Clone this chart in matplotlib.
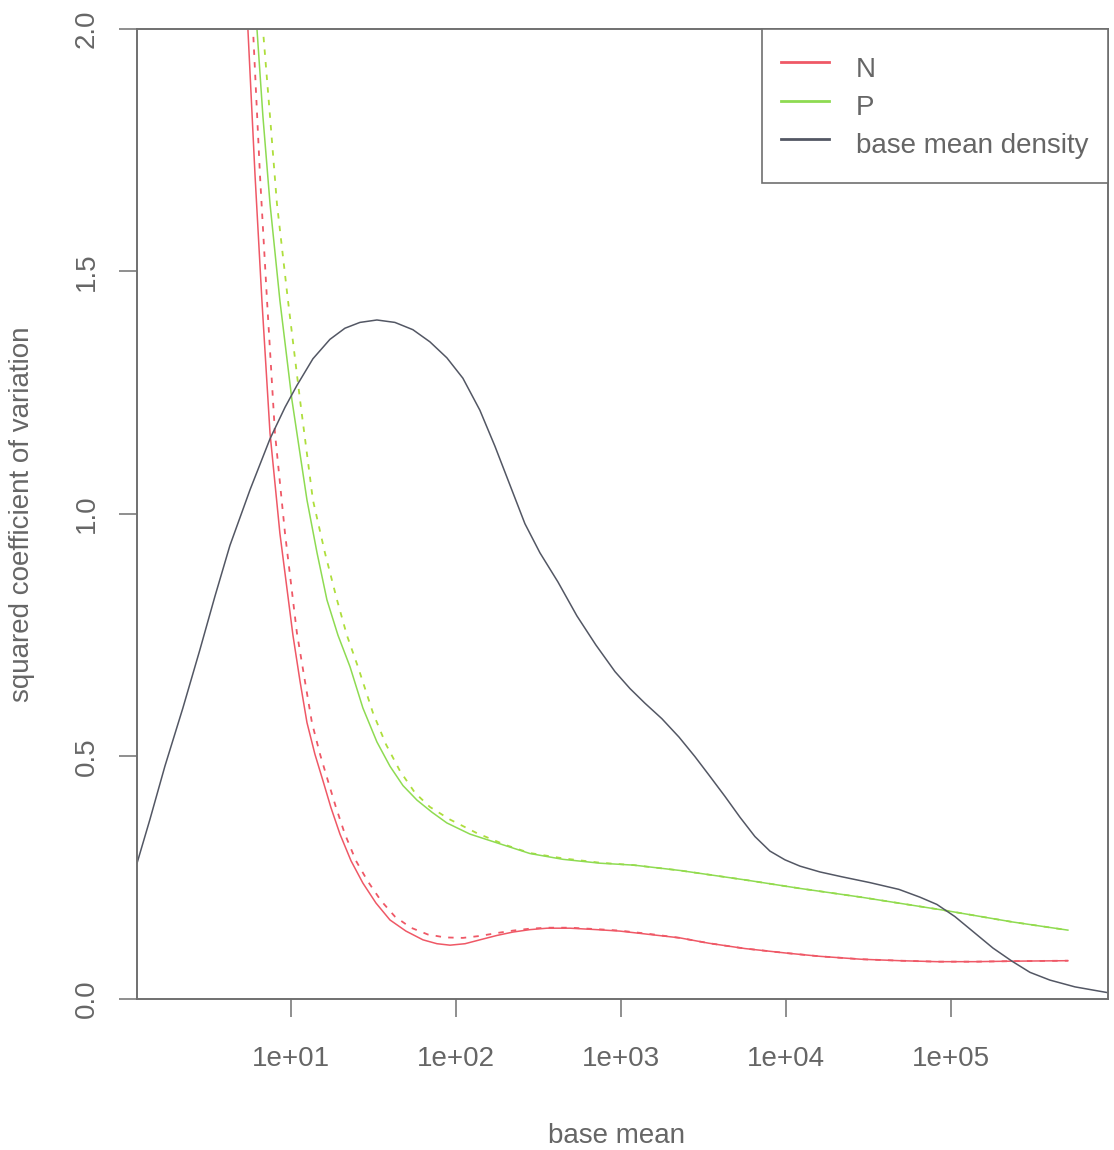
"""Squared coefficient of variation against base mean for conditions N and P,
with the base mean density overlaid."""

import numpy as np
import matplotlib
matplotlib.use("Agg")
import matplotlib.pyplot as plt

plt.rcParams["font.family"] = ["Liberation Sans", "DejaVu Sans"]

# --- data (x values stored as log10 of base mean) ---
density_log_x = [0.067, 0.145, 0.236, 0.345, 0.448, 0.539, 0.630, 0.752, 0.873, 0.964,
                 1.036, 1.133, 1.236, 1.327, 1.418, 1.521, 1.630, 1.739, 1.842, 1.945,
                 2.042, 2.145, 2.236, 2.327, 2.418, 2.509, 2.618, 2.733, 2.848, 2.964,
                 3.055, 3.145, 3.248, 3.352, 3.448, 3.533, 3.630, 3.721, 3.812, 3.903,
                 3.994, 4.085, 4.206, 4.339, 4.509, 4.685, 4.812, 4.915, 5.024, 5.145,
                 5.255, 5.370, 5.479, 5.600, 5.752, 5.952]
density_y = [0.28, 0.37, 0.48, 0.60, 0.72, 0.83, 0.935, 1.05, 1.155, 1.22,
             1.265, 1.32, 1.36, 1.383, 1.395, 1.40, 1.395, 1.38, 1.355, 1.322,
             1.28, 1.214, 1.14, 1.06, 0.98, 0.92, 0.86, 0.79, 0.73, 0.675,
             0.64, 0.61, 0.578, 0.54, 0.50, 0.462, 0.418, 0.375, 0.335, 0.305,
             0.287, 0.274, 0.262, 0.252, 0.24, 0.226, 0.21, 0.195, 0.17, 0.136,
             0.105, 0.078, 0.055, 0.039, 0.025, 0.013]

n_fit_log_x = [0.727, 0.739, 0.782, 0.824, 0.873, 0.933, 1.012, 1.055, 1.097, 1.145,
               1.194, 1.242, 1.297, 1.364, 1.436, 1.515, 1.600, 1.697, 1.800, 1.885,
               1.964, 2.055, 2.145, 2.248, 2.345, 2.448, 2.552, 2.691, 2.855, 2.994,
               3.176, 3.358, 3.533, 3.752, 3.994, 4.206, 4.455, 4.691, 4.915, 5.145,
               5.370, 5.709]
n_fit_y = [2.08, 2.00, 1.70, 1.44, 1.167, 0.96, 0.75, 0.655, 0.57, 0.505,
           0.45, 0.395, 0.34, 0.285, 0.239, 0.198, 0.163, 0.14, 0.122, 0.114,
           0.111, 0.114, 0.122, 0.131, 0.138, 0.143, 0.146, 0.146, 0.143, 0.14,
           0.133, 0.126, 0.115, 0.104, 0.095, 0.088, 0.082, 0.079, 0.077, 0.077,
           0.078, 0.079]

n_raw_log_x = [0.758, 0.770, 0.812, 0.855, 0.903, 0.964, 1.036, 1.085, 1.127, 1.176,
               1.224, 1.273, 1.327, 1.394, 1.467, 1.545, 1.630, 1.727, 1.830, 1.933,
               2.042, 2.145, 2.248, 2.345, 2.448, 2.552, 2.691, 2.855, 2.994, 3.176,
               3.358, 3.533, 3.752, 3.994, 4.206, 4.455, 4.691, 4.915, 5.145, 5.370,
               5.709]
n_raw_y = [2.08, 2.00, 1.70, 1.44, 1.167, 0.96, 0.755, 0.655, 0.57, 0.505,
           0.45, 0.395, 0.34, 0.285, 0.242, 0.203, 0.170, 0.147, 0.133, 0.127,
           0.126, 0.13, 0.136, 0.141, 0.145, 0.147, 0.147, 0.144, 0.141, 0.134,
           0.126, 0.115, 0.104, 0.095, 0.088, 0.082, 0.079, 0.077, 0.077, 0.078,
           0.079]

p_fit_log_x = [0.782, 0.794, 0.830, 0.873, 0.933, 1.006, 1.097, 1.158, 1.218, 1.285,
               1.358, 1.436, 1.521, 1.600, 1.679, 1.764, 1.855, 1.945, 2.085, 2.248,
               2.448, 2.648, 2.873, 3.079, 3.358, 3.764, 4.085, 4.455, 4.958, 5.370,
               5.709]
p_fit_y = [2.07, 2.00, 1.82, 1.64, 1.44, 1.235, 1.029, 0.92, 0.823, 0.75,
           0.685, 0.60, 0.53, 0.48, 0.44, 0.41, 0.385, 0.363, 0.34, 0.322,
           0.30, 0.288, 0.28, 0.276, 0.265, 0.245, 0.228, 0.21, 0.183, 0.159,
           0.142]

p_raw_log_x = [0.818, 0.830, 0.873, 0.915, 0.982, 1.055, 1.133, 1.206, 1.279, 1.339,
               1.406, 1.497, 1.576, 1.661, 1.752, 1.842, 1.964, 2.127, 2.297, 2.448,
               2.648, 2.873, 3.079, 3.358, 3.764, 4.085, 4.455, 4.958, 5.370, 5.709]
p_raw_y = [2.07, 2.00, 1.82, 1.64, 1.44, 1.235, 1.029, 0.92, 0.823, 0.75,
           0.685, 0.59, 0.525, 0.47, 0.425, 0.396, 0.37, 0.342, 0.318, 0.301,
           0.29, 0.281, 0.276, 0.265, 0.245, 0.228, 0.21, 0.183, 0.159, 0.142]

x_ticks = [1e1, 1e2, 1e3, 1e4, 1e5]
x_tick_labels = ["1e+01", "1e+02", "1e+03", "1e+04", "1e+05"]
y_ticks = [0.0, 0.5, 1.0, 1.5, 2.0]
y_tick_labels = ["0.0", "0.5", "1.0", "1.5", "2.0"]

RED = "#ef5866"
GREEN = "#8edb52"
GREEN_DASH = "#aede3c"
DENSITY = "#535764"
AXIS = "#707070"
TEXT = "#666666"


def bm(log_x):
    return 10 ** np.asarray(log_x)


fig = plt.figure(figsize=(11.14, 11.5), dpi=100)
ax = fig.add_axes([0.123, 0.1313, 0.8716, 0.8435])

ax.plot(bm(n_raw_log_x), n_raw_y, color=RED, lw=1.3, dashes=(3, 4))
ax.plot(bm(p_raw_log_x), p_raw_y, color=GREEN_DASH, lw=1.3, dashes=(3, 4))
line_n, = ax.plot(bm(n_fit_log_x), n_fit_y, color=RED, lw=1.1, label="N")
line_p, = ax.plot(bm(p_fit_log_x), p_fit_y, color=GREEN, lw=1.1, label="P")
line_d, = ax.plot(bm(density_log_x), density_y, color=DENSITY, lw=1.1,
                  label="base mean density")

ax.set_xscale("log")
ax.set_xlim(10 ** 0.067, 10 ** 5.952)
ax.set_ylim(0, 2)

ax.set_xticks(x_ticks)
ax.set_xticklabels(x_tick_labels)
ax.xaxis.set_minor_locator(matplotlib.ticker.NullLocator())
ax.set_yticks(y_ticks)
ax.set_yticklabels(y_tick_labels, rotation=90, va="center")

ax.tick_params(axis="both", direction="out", length=13, width=1.1,
               color=AXIS, labelcolor=TEXT, labelsize=20)
ax.tick_params(axis="x", pad=21)
ax.tick_params(axis="y", pad=14)

for spine in ax.spines.values():
    spine.set_color(AXIS)
    spine.set_linewidth(1.4)

ax.set_xlabel("base mean", fontsize=20, color=TEXT)
ax.set_ylabel("squared coefficient of variation", fontsize=20, color=TEXT)
ax.xaxis.set_label_coords(0.494, -0.141)
ax.xaxis.label.set_va("center")
ax.yaxis.set_label_coords(-0.118, 0.5)
ax.yaxis.label.set_va("center")

leg = ax.legend(handles=[line_n, line_p, line_d], loc="upper right",
                bbox_to_anchor=(1.0, 1.0), borderaxespad=0.0, fontsize=20,
                fancybox=False, framealpha=1.0, edgecolor=AXIS,
                borderpad=0.7, labelspacing=0.0, handleheight=1.74,
                handlelength=1.73, handletextpad=0.97)
leg.get_frame().set_linewidth(1.2)
for text in leg.get_texts():
    text.set_color(TEXT)
for h in leg.legend_handles:
    h.set_linewidth(2.0)

fig.savefig("out.png", dpi=100, facecolor="white")
